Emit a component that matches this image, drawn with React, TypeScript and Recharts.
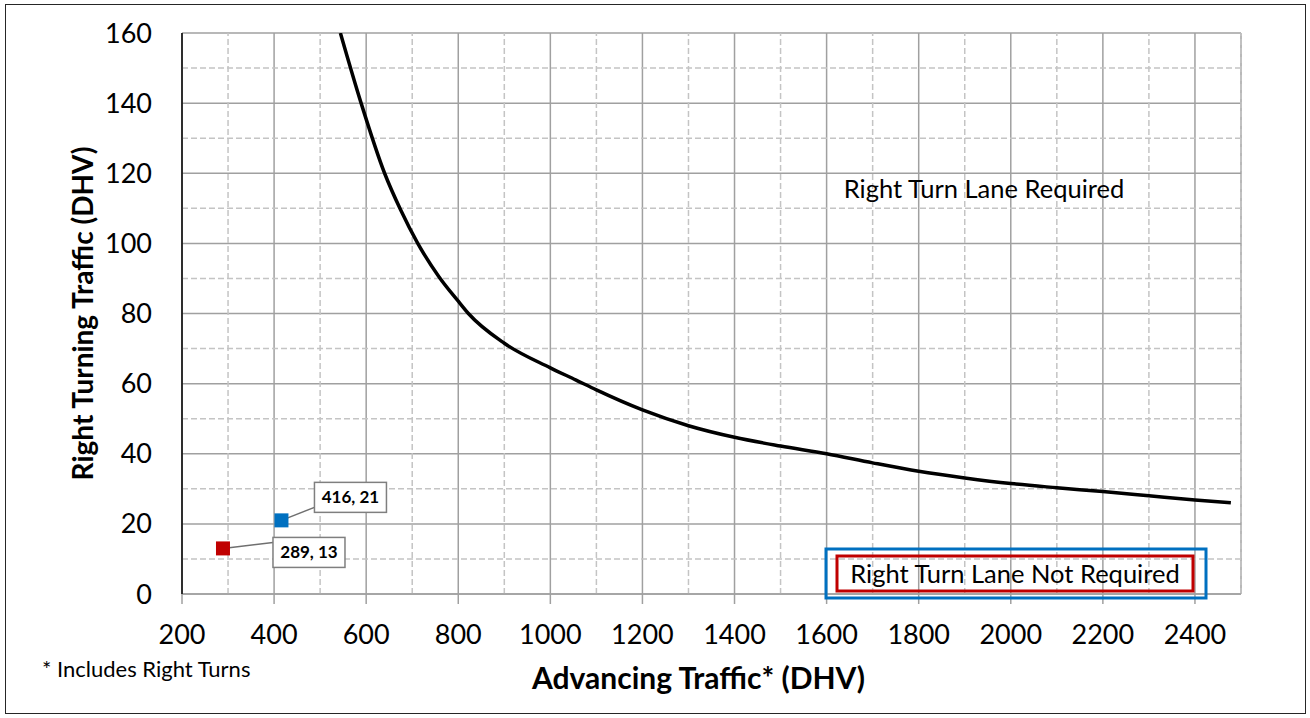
import { ComposedChart, Line, Scatter, XAxis, YAxis, CartesianGrid, ReferenceLine, Label } from 'recharts';

// warrant curve
const curveX = [544, 589, 640, 675, 712, 758, 800, 822, 900, 1000, 1056, 1100, 1200, 1300, 1400, 1500, 1600, 1700, 1800, 1900, 2000, 2100, 2200, 2300, 2400, 2478];
const curveY = [160, 140, 120, 109.5, 100, 90.5, 83.5, 80, 71.5, 64.5, 61, 58.2, 52.5, 48, 44.7, 42.2, 40, 37.4, 35, 33.1, 31.5, 30.3, 29.2, 28, 26.8, 26];

// the two sites being checked
const siteX = [289, 416];
const siteY = [13, 21];

const xTicks = [200, 400, 600, 800, 1000, 1200, 1400, 1600, 1800, 2000, 2200, 2400];
const yTicks = [0, 20, 40, 60, 80, 100, 120, 140, 160];
const xMinor = [300, 500, 700, 900, 1100, 1300, 1500, 1700, 1900, 2100, 2300, 2500];
const yMinor = [10, 30, 50, 70, 90, 110, 130, 150];

const curve = curveX.map((x, i) => ({ x, y: curveY[i] }));
const sites = siteX.map((x, i) => ({ x, y: siteY[i] }));

const FONT = 'Lato, "Open Sans", sans-serif';
const MAJOR = '#a0a0a0';
const MINOR = '#c4c4c4';

// callout box offsets (px) from each site marker
const callouts = [
    { color: '#C00000', dx: 50, dy: -11, lineY: 5 },
    { color: '#0070C0', dx: 33, dy: -38, lineY: 25 },
];

const siteShape = (idx: number) => (props: any) => {
    const { cx, cy, payload } = props;
    const c = callouts[idx];
    const bx = cx + c.dx;
    const by = cy + c.dy;
    return (
        <g>
            <line x1={cx} y1={cy} x2={bx} y2={by + c.lineY} stroke="#6f6f6f" strokeWidth={1.5} />
            <rect x={bx} y={by} width={72} height={30} fill="#fff" stroke="#7f7f7f" strokeWidth={1.5} />
            <text x={bx + 36} y={by + 21} textAnchor="middle" fontFamily={FONT} fontWeight="bold" fontSize={17} fill="#000">
                {`${payload.x}, ${payload.y}`}
            </text>
            <rect x={cx - 7} y={cy - 7} width={14} height={14} fill={c.color} />
        </g>
    );
};

export default function App() {
    return (
        <div style={{ position: 'absolute', left: 0, top: 0, width: 1310, height: 718, background: '#fff', fontFamily: FONT }}>
            <div style={{ position: 'absolute', left: 5, top: 4, width: 1299, height: 708, border: '1.5px solid #262626' }} />
            <ComposedChart width={1310} height={718} margin={{ top: 33, right: 69, bottom: 74, left: 62 }}>
                <CartesianGrid stroke={MAJOR} strokeWidth={1.5} />
                {xMinor.map((v) => (
                    <ReferenceLine key={`vx${v}`} x={v} stroke={MINOR} strokeWidth={1.5} strokeDasharray="6 3" />
                ))}
                {yMinor.map((v) => (
                    <ReferenceLine key={`hy${v}`} y={v} stroke={MINOR} strokeWidth={1.5} strokeDasharray="6 3" />
                ))}
                <XAxis
                    dataKey="x"
                    type="number"
                    domain={[200, 2500]}
                    ticks={xTicks}
                    height={50}
                    axisLine={{ stroke: MAJOR, strokeWidth: 1.5 }}
                    tickLine={{ stroke: MAJOR, strokeWidth: 1.5 }}
                    tickSize={10}
                    tickMargin={21}
                    tick={{ fontSize: 27, fill: '#000', fontFamily: FONT }}
                    allowDataOverflow
                >
                    <Label
                        content={({ viewBox }: any) => (
                            <text x={viewBox.x + viewBox.width / 2 - 13} y={viewBox.y + 95} textAnchor="middle" fontFamily={FONT} fontWeight="bold" fontSize={30} fill="#000">
                                Advancing Traffic* (DHV)
                            </text>
                        )}
                    />
                </XAxis>
                <YAxis
                    type="number"
                    domain={[0, 160]}
                    ticks={yTicks}
                    width={120}
                    axisLine={{ stroke: '#000', strokeWidth: 1.5 }}
                    tickLine={false}
                    tickSize={0}
                    tickMargin={30}
                    tick={{ fontSize: 27, fill: '#000', fontFamily: FONT }}
                    allowDataOverflow
                >
                    <Label
                        content={({ viewBox }: any) => (
                            <text
                                transform={`translate(${viewBox.x + 31}, ${viewBox.y + viewBox.height / 2}) rotate(-90)`}
                                textAnchor="middle"
                                fontFamily={FONT}
                                fontWeight="bold"
                                fontSize={28}
                                fill="#000"
                            >
                                Right Turning Traffic (DHV)
                            </text>
                        )}
                    />
                </YAxis>
                <Line data={curve} dataKey="y" type="monotone" stroke="#000" strokeWidth={3.5} dot={false} isAnimationActive={false} />
                <Scatter data={[sites[0]]} dataKey="y" shape={siteShape(0)} isAnimationActive={false} />
                <Scatter data={[sites[1]]} dataKey="y" shape={siteShape(1)} isAnimationActive={false} />
            </ComposedChart>
            <svg width={1310} height={718} style={{ position: 'absolute', left: 0, top: 0, pointerEvents: 'none' }}>
                <text x={984} y={198} textAnchor="middle" fontFamily={FONT} fontSize={25.5} fill="#000">
                    Right Turn Lane Required
                </text>
                <rect x={826} y={549} width={380} height={49} fill="none" stroke="#0070C0" strokeWidth={3} />
                <rect x={837} y={556} width={356} height={35} fill="none" stroke="#C00000" strokeWidth={3} />
                <text x={1015} y={583} textAnchor="middle" fontFamily={FONT} fontSize={25.5} fill="#000">
                    Right Turn Lane Not Required
                </text>
                <text x={42} y={677} fontFamily={FONT} fontSize={22} fill="#000">
                    * Includes Right Turns
                </text>
            </svg>
        </div>
    );
}
